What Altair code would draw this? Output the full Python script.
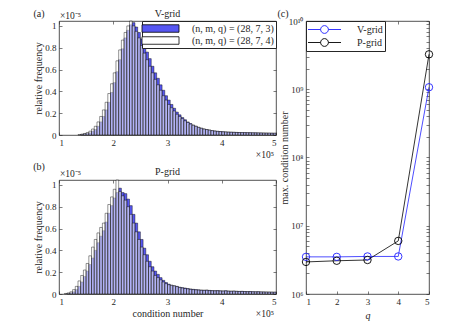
import altair as alt
import pandas as pd

# ---------------- data ----------------
BIN_START = 1.0      # x in units of 1e5
BIN_WIDTH = 0.05
LAB3 = "(n, m, q) = (28, 7, 3)"
LAB4 = "(n, m, q) = (28, 7, 4)"

# relative frequency in units of 1e-5, 80 bins from 1e5 to 5e5
a_q3 = [0, 0, 0, 0, 0, 0, 0, 0,
        0.005, 0.01, 0.015, 0.02, 0.035, 0.05, 0.08, 0.12, 0.17, 0.23,
        0.30, 0.39, 0.48, 0.58, 0.69, 0.79, 0.89, 0.96, 1.01, 1.03,
        0.99, 0.94, 0.88, 0.82, 0.76, 0.70, 0.63, 0.57, 0.52, 0.46,
        0.41, 0.36, 0.32, 0.28, 0.245, 0.21, 0.185, 0.16, 0.14, 0.12,
        0.105, 0.09, 0.08, 0.07, 0.062, 0.055, 0.05, 0.045, 0.04, 0.037,
        0.034, 0.032, 0.03, 0.028, 0.027, 0.026, 0.025, 0.024, 0.023, 0.022,
        0.022, 0.021, 0.021, 0.02, 0.02, 0.019, 0.019, 0.018, 0.018, 0.017,
        0.017, 0.016]
a_q4 = [0, 0, 0, 0, 0, 0, 0,
        0.004, 0.008, 0.014, 0.022, 0.035, 0.055, 0.08, 0.12, 0.17, 0.23,
        0.30, 0.38, 0.47, 0.57, 0.68, 0.78, 0.87, 0.94, 1.00, 1.045,
        1.00, 0.95, 0.89, 0.82, 0.75, 0.69, 0.63, 0.57, 0.51, 0.46,
        0.41, 0.36, 0.32, 0.28, 0.25, 0.22, 0.19, 0.17, 0.15, 0.13,
        0.115, 0.10, 0.09, 0.08, 0.07, 0.062, 0.055, 0.05, 0.045, 0.04,
        0.036, 0.033, 0.031, 0.029, 0.028, 0.026, 0.025, 0.024, 0.023, 0.022,
        0.022, 0.021, 0.021, 0.02, 0.02, 0.019, 0.019, 0.018, 0.018, 0.017,
        0.017, 0.016, 0.016]
b_q3 = [0, 0, 0,
        0.005, 0.01, 0.02, 0.04, 0.07, 0.11, 0.16, 0.21, 0.27, 0.33,
        0.40, 0.47, 0.53, 0.58, 0.66, 0.74, 0.81, 0.88, 0.93, 0.97,
        0.93, 0.92, 0.87, 0.81, 0.73, 0.65, 0.57, 0.50, 0.42, 0.36,
        0.30, 0.25, 0.21, 0.18, 0.15, 0.125, 0.105, 0.09, 0.08, 0.075,
        0.07, 0.062, 0.058, 0.055, 0.05, 0.046, 0.043, 0.04, 0.038, 0.036,
        0.035, 0.036, 0.033, 0.031, 0.03, 0.031, 0.029, 0.028, 0.03, 0.027,
        0.026, 0.027, 0.025, 0.024, 0.025, 0.023, 0.022, 0.023, 0.021, 0.02,
        0.021, 0.019, 0.019, 0.018, 0.018, 0.017, 0.017]
b_q4 = [0, 0,
        0.005, 0.01, 0.02, 0.04, 0.07, 0.12, 0.17, 0.22, 0.28, 0.35,
        0.43, 0.50, 0.56, 0.61, 0.65, 0.74, 0.82, 0.89, 0.96, 1.045,
        0.94, 0.90, 0.86, 0.80, 0.73, 0.65, 0.57, 0.50, 0.43, 0.36,
        0.30, 0.25, 0.21, 0.17, 0.15, 0.13, 0.11, 0.095, 0.085, 0.08,
        0.075, 0.068, 0.06, 0.055, 0.05, 0.047, 0.043, 0.04, 0.038, 0.036,
        0.034, 0.033, 0.034, 0.031, 0.03, 0.029, 0.03, 0.028, 0.027, 0.028,
        0.026, 0.025, 0.026, 0.024, 0.023, 0.023, 0.022, 0.021, 0.021, 0.02,
        0.02, 0.02, 0.019, 0.018, 0.018, 0.017, 0.017, 0.016]

q_vals = [1, 2, 3, 4, 5]
v_grid = [3.5e6, 3.5e6, 3.55e6, 3.55e6, 1.07e9]
p_grid = [2.95e6, 3.07e6, 3.15e6, 6.0e6, 3.25e9]

X_TICKS = [1, 2, 3, 4, 5]
Y_TICKS = [0, 0.2, 0.4, 0.6, 0.8, 1.0]

BLUE = "#5757f2"
INK = "#262626"
FONT = "Liberation Serif"


def hist_df(q3, q4):
    rows = []
    for lab, vals in [(LAB3, q3), (LAB4, q4)]:
        for i, v in enumerate(vals):
            if v > 0:
                x0 = BIN_START + BIN_WIDTH * i
                rows.append({"x0": x0, "x1": x0 + BIN_WIDTH, "v": v, "s": lab})
    return pd.DataFrame(rows)


def note(text, x, y, align="center", size=10):
    return alt.Chart(pd.DataFrame({"t": [text]})).mark_text(
        align=align, baseline="middle", font=FONT, fontSize=size, color=INK
    ).encode(text="t:N", x=alt.value(x), y=alt.value(y))


def hist_panel(q3, q4, title, tag, top_y, show_xtitle, show_legend):
    df = hist_df(q3, q4)
    xsc = alt.Scale(domain=[1, 5], nice=False, zero=False)
    ysc = alt.Scale(domain=[0, 1.045], nice=False)
    if show_xtitle:
        xaxis = alt.Axis(values=X_TICKS, format="d", title="condition number",
                         titleY=19, titleBaseline="middle")
    else:
        xaxis = alt.Axis(values=X_TICKS, format="d", title=None)
    if show_legend:
        legend = alt.Legend(
            title=None, orient="top-right", offset=0, padding=2, rowPadding=1,
            fillColor="white", strokeColor=INK,
            symbolType="M-3.7,-0.75H3.7V0.75H-3.7Z", symbolSize=100,
            symbolOffset=11, labelOffset=26, symbolStrokeColor="black",
            symbolStrokeWidth=0.8, symbolOpacity=1, labelFontSize=10,
            labelFont=FONT, labelColor=INK, labelLimit=200,
        )
    else:
        legend = None
    bars = alt.Chart(df).mark_rect(stroke="black", strokeWidth=0.5, strokeOpacity=0.85).encode(
        x=alt.X("x0:Q", scale=xsc, axis=xaxis),
        x2="x1:Q",
        y=alt.Y("v:Q", scale=ysc,
                axis=alt.Axis(values=Y_TICKS, format="~g",
                              title="relative frequency", titleX=-21, titleY=57,
                              titleBaseline="middle")),
        y2=alt.datum(0),
        color=alt.Color("s:N", scale=alt.Scale(domain=[LAB3, LAB4], range=[BLUE, "#ffffff"]),
                        legend=legend),
        fillOpacity=alt.FillOpacity("s:N", scale=alt.Scale(domain=[LAB3, LAB4], range=[1, 0.55]),
                                    legend=None),
    )
    # invisible copy that carries the mirrored (top / right) tick marks
    mirror = alt.Chart(df).mark_rect(opacity=0).encode(
        x=alt.X("x0:Q", scale=xsc, axis=alt.Axis(orient="top", values=X_TICKS, labels=False, title=None)),
        x2="x1:Q",
        y=alt.Y("v:Q", scale=ysc, axis=alt.Axis(orient="right", values=Y_TICKS, labels=False, title=None)),
        y2=alt.datum(0),
    )
    layers = [bars, mirror,
              note(title, 108.5, top_y[0]),
              note(tag, -20, top_y[1]),
              note("×10⁻⁵", 1, top_y[2], align="left", size=9.5),
              note("×10⁵", 215, 134, align="right", size=9.5)]
    return alt.layer(*layers).resolve_axis(x="independent", y="independent").properties(
        width=217, height=114)


panel_a = hist_panel(a_q3, a_q4, "V-grid", "(a)", (-7, -7, -5), False, True)
panel_b = hist_panel(b_q3, b_q4, "P-grid", "(b)", (-8, -13, -6), True, False)

# ---------------- panel (c) ----------------
df_c = pd.DataFrame({
    "q": q_vals + q_vals,
    "val": v_grid + p_grid,
    "s": ["V-grid"] * len(q_vals) + ["P-grid"] * len(q_vals),
})
LOG_TICKS = [m * 10 ** e for e in range(6, 10) for m in range(1, 10)] + [1e10]
lab_expr = ("datum.value == 1e6 ? '10⁶' : datum.value == 1e7 ? '10⁷' : "
            "datum.value == 1e8 ? '10⁸' : datum.value == 1e9 ? '10⁹' : "
            "datum.value == 1e10 ? '10¹⁰' : ''")
leg_c = alt.Legend(
    title=None, orient="top-left", offset=0, padding=2, rowPadding=0,
    fillColor="white", strokeColor=INK,
    symbolType="M-2.75,0H-0.65M0.65,0H2.75M0.65,0A0.65,0.65,0,1,1,-0.65,0A0.65,0.65,0,1,1,0.65,0",
    symbolSize=144, symbolOffset=10, labelOffset=26, symbolStrokeWidth=0.9,
    symbolFillColor="transparent", labelFontSize=10, labelFont=FONT, labelColor=INK,
)
qsc = alt.Scale(domain=[1, 5], nice=False, zero=False)
lsc = alt.Scale(type="log", domain=[1e6, 1e10], nice=False)
color_c = alt.Color("s:N", scale=alt.Scale(domain=["V-grid", "P-grid"],
                                           range=["#1f1fff", "#000000"]), legend=leg_c)
line_c = alt.Chart(df_c).mark_line(strokeWidth=0.8).encode(
    x=alt.X("q:Q", scale=qsc,
            axis=alt.Axis(values=X_TICKS, format="d", title="q",
                          titleFontStyle="italic", titleY=21, titleBaseline="middle")),
    y=alt.Y("val:Q", scale=lsc,
            axis=alt.Axis(values=LOG_TICKS, labelExpr=lab_expr, labelOverlap=False,
                          title="max. condition number", titleX=-22, titleY=136.5,
                          titleBaseline="middle")),
    color=color_c,
)
pts_c = alt.Chart(df_c).mark_point(filled=False, size=55, strokeWidth=0.9, opacity=1).encode(
    x=alt.X("q:Q", scale=qsc, axis=None),
    y=alt.Y("val:Q", scale=lsc, axis=None),
    color=color_c,
)
mirror_c = alt.Chart(df_c).mark_point(opacity=0).encode(
    x=alt.X("q:Q", scale=qsc, axis=alt.Axis(orient="top", values=X_TICKS, labels=False, title=None)),
    y=alt.Y("val:Q", scale=lsc, axis=alt.Axis(orient="right", values=LOG_TICKS, labels=False, title=None)),
)
panel_c = alt.layer(line_c, pts_c, mirror_c, note("(c)", -23, -7)).resolve_axis(
    x="independent", y="independent").properties(width=123, height=273)

left = alt.vconcat(panel_a, panel_b, spacing=45, bounds="flush").resolve_scale(
    color="independent", fillOpacity="independent")
chart = alt.hconcat(left, panel_c, spacing=0).resolve_scale(
    color="independent", fillOpacity="independent"
).properties(
    padding={"left": 24, "top": 0, "right": 0, "bottom": 0}
).configure_view(
    stroke=INK, strokeWidth=0.8
).configure_axis(
    domain=False, grid=False, labelFont=FONT, labelFontSize=9, labelColor=INK,
    titleFont=FONT, titleFontSize=10, titleFontWeight="normal", titleColor=INK,
    tickColor=INK, tickWidth=0.6, tickSize=alt.ExprRef(expr="-3"), labelPadding=6,
)

chart.save("out.html", embed_options={"renderer": "svg", "actions": False})
